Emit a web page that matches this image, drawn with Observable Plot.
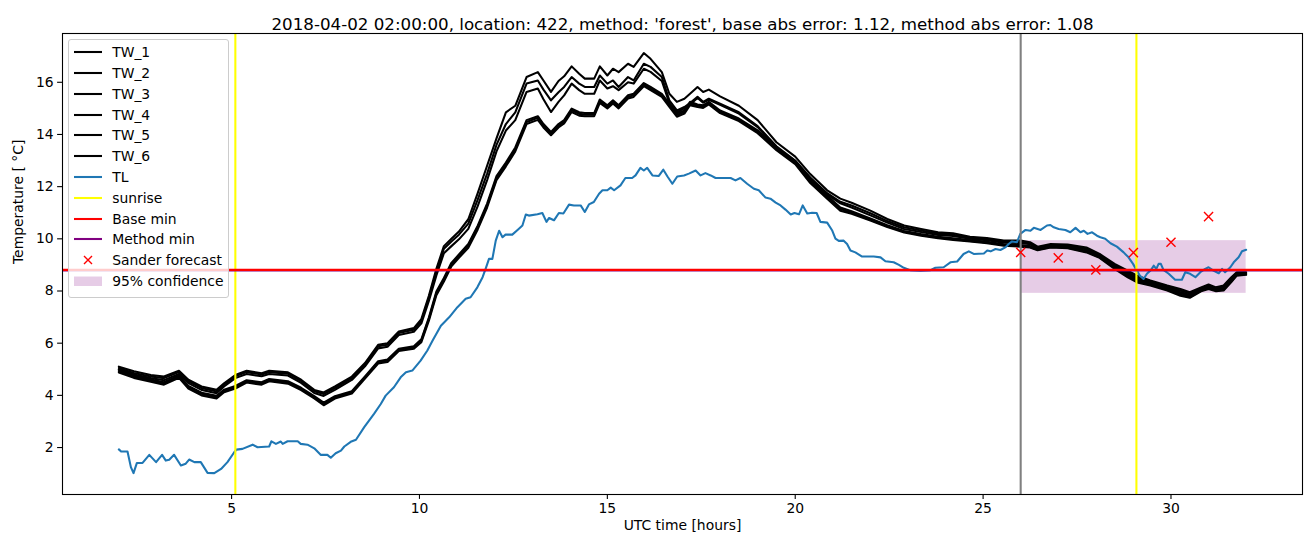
<!DOCTYPE html>
<html>
<head>
<meta charset="utf-8">
<script src="https://cdn.jsdelivr.net/npm/d3@7"></script>
<script src="https://cdn.jsdelivr.net/npm/@observablehq/plot@0.6"></script>
<style>
  html, body { margin: 0; padding: 0; background: white; }
  #wrap { position: relative; width: 1311px; height: 547px; font-family: "DejaVu Sans", sans-serif; }
  #legend { position: absolute; left: 68px; top: 39px; width: 159px; height: 255px;
    border: 1px solid #cccccc; border-radius: 3px; background: rgba(255,255,255,0.8);
    box-sizing: content-box; padding-top: 1.9px; }
  .row { display: flex; align-items: center; height: 20.8px; font-size: 13.9px; color: black; white-space: nowrap; }
  .row svg { margin-left: 4.7px; margin-right: 10.5px; flex: none; }
</style>
</head>
<body>
<div id="wrap"></div>
<script>
// ---------------- data ----------------
const title = "2018-04-02 02:00:00, location: 422, method: 'forest', base abs error: 1.12, method abs error: 1.08";
const xTicks = [5, 10, 15, 20, 25, 30];
const yTicks = [2, 4, 6, 8, 10, 12, 14, 16];

const twHours = [2.0,2.4,2.85,3.2,3.6,3.85,4.2,4.6,4.8,5.1,5.4,5.8,6.0,6.5,6.85,7.2,7.45,7.75,8.2,8.55,8.9,9.15,9.45,9.85,10.05,10.25,10.45,10.65,10.85,11.05,11.3,11.55,11.8,12.05,12.3,12.55,12.85,13.15,13.3,13.5,13.7,13.85,14.05,14.25,14.4,14.65,14.8,15.0,15.15,15.3,15.55,15.7,15.97,16.15,16.45,16.65,16.85,17.05,17.2,17.4,17.55,17.7,18.0,18.5,19.0,19.5,20.0,20.4,20.85,21.2,21.5,22.0,22.45,22.9,23.35,23.8,24.2,24.65,25.1,25.55,26.0,26.25,26.45,26.8,27.25,27.75,28.1,28.5,28.85,29.1,29.45,29.9,30.25,30.5,30.8,31.0,31.2,31.4,31.6,31.75,32.0];

const tw1 = [5.10,4.92,4.78,4.72,4.94,4.60,4.34,4.21,4.46,4.78,
4.94,4.85,4.94,4.88,4.60,4.21,4.11,4.34,4.72,5.24,
5.94,6.00,6.45,6.58,6.92,7.82,8.85,9.72,10.00,10.28,
10.75,11.75,12.80,13.85,14.85,15.10,16.20,16.39,16.07,15.63,
16.05,16.23,16.61,16.33,16.14,16.14,16.61,16.26,16.52,16.39,
16.71,16.59,17.12,16.90,16.39,15.56,15.25,15.37,15.56,15.82,
15.63,15.72,15.46,15.10,14.55,13.70,13.15,12.48,11.86,11.54,
11.38,11.08,10.76,10.51,10.38,10.25,10.21,10.08,10.03,9.93,
9.93,9.87,9.70,9.80,9.78,9.67,9.42,9.04,8.78,8.59,
8.40,8.21,8.08,7.95,8.14,8.25,8.14,8.21,8.52,8.72,8.72];

const tw2 = [5.05,4.86,4.72,4.66,4.89,4.54,4.28,4.15,4.41,4.73,
4.89,4.80,4.89,4.83,4.55,4.16,4.05,4.28,4.66,5.18,
5.88,5.94,6.39,6.52,6.85,7.74,8.74,9.62,9.90,10.16,
10.58,11.50,12.50,13.60,14.40,14.85,15.95,16.07,15.72,15.31,
15.62,15.82,16.20,15.95,15.82,15.82,16.26,15.95,16.07,15.82,
16.20,16.07,16.71,16.59,16.20,15.31,14.92,15.05,15.20,15.44,
15.25,15.37,15.18,14.85,14.32,13.55,13.00,12.35,11.75,11.42,
11.28,10.98,10.68,10.44,10.32,10.20,10.16,10.04,9.99,9.89,
9.88,9.83,9.66,9.76,9.74,9.63,9.38,9.00,8.72,8.53,
8.36,8.17,8.02,7.90,8.11,8.21,8.11,8.17,8.48,8.69,8.70];

const tw3 = [5.00,4.80,4.66,4.58,4.82,4.47,4.21,4.08,4.34,4.66,
4.82,4.73,4.82,4.76,4.48,4.09,3.98,4.21,4.59,5.11,
5.80,5.86,6.31,6.44,6.76,7.62,8.60,9.45,9.72,9.98,
10.38,11.25,12.25,13.35,14.15,14.55,15.63,15.76,15.35,14.86,
15.25,15.50,15.95,15.70,15.56,15.56,16.07,15.76,15.85,15.70,
16.00,15.95,16.52,16.40,16.05,15.20,14.85,15.00,15.15,15.40,
15.22,15.33,15.14,14.80,14.28,13.50,12.95,12.30,11.70,11.36,
11.20,10.90,10.62,10.38,10.26,10.15,10.11,10.00,9.95,9.85,
9.84,9.79,9.63,9.73,9.71,9.60,9.35,8.96,8.66,8.47,
8.32,8.13,7.96,7.85,8.08,8.17,8.08,8.13,8.44,8.66,8.68];

const tw4 = [4.98,4.76,4.61,4.50,4.76,4.36,4.10,3.98,4.22,4.36,
4.58,4.50,4.63,4.54,4.29,3.97,3.72,3.97,4.16,4.73,
5.31,5.37,5.79,5.88,6.15,6.98,7.98,8.50,9.08,9.40,
9.80,10.50,11.35,12.40,12.92,13.50,14.55,14.70,14.40,14.10,
14.40,14.55,14.99,14.85,14.82,14.82,15.34,15.12,15.31,15.12,
15.50,15.56,15.97,15.82,15.56,15.18,14.80,14.92,15.25,15.15,
15.12,15.25,14.92,14.61,14.16,13.50,12.98,12.26,11.66,11.20,
11.06,10.78,10.52,10.30,10.18,10.08,10.02,9.95,9.89,9.79,
9.76,9.72,9.60,9.71,9.68,9.54,9.32,8.92,8.60,8.42,
8.28,8.09,7.91,7.81,8.05,8.14,8.05,8.09,8.40,8.64,8.66];

const tw5 = [4.93,4.72,4.57,4.46,4.72,4.31,4.06,3.93,4.18,4.31,
4.54,4.46,4.59,4.50,4.25,3.93,3.67,3.93,4.12,4.69,
5.27,5.33,5.75,5.84,6.10,6.93,7.92,8.44,9.02,9.34,
9.74,10.44,11.28,12.32,12.85,13.42,14.48,14.64,14.34,14.04,
14.34,14.48,14.93,14.79,14.76,14.76,15.28,15.06,15.25,15.06,
15.44,15.50,15.91,15.76,15.50,15.12,14.74,14.86,15.19,15.10,
15.07,15.20,14.87,14.56,14.10,13.45,12.92,12.20,11.60,11.14,
11.00,10.73,10.48,10.27,10.15,10.05,9.99,9.92,9.86,9.76,
9.73,9.69,9.58,9.69,9.66,9.51,9.29,8.89,8.56,8.38,
8.24,8.05,7.86,7.77,8.02,8.11,8.02,8.05,8.36,8.61,8.64];

const tw6 = [4.88,4.67,4.52,4.41,4.67,4.26,4.00,3.88,4.12,4.26,
4.49,4.41,4.54,4.45,4.20,3.88,3.62,3.88,4.07,4.64,
5.22,5.28,5.70,5.79,6.04,6.86,7.84,8.36,8.95,9.27,
9.66,10.36,11.20,12.25,12.78,13.35,14.40,14.56,14.27,13.97,
14.27,14.42,14.86,14.72,14.70,14.70,15.21,15.00,15.19,15.00,
15.38,15.44,15.85,15.70,15.44,15.06,14.68,14.80,15.12,15.05,
15.02,15.15,14.82,14.51,14.05,13.40,12.86,12.14,11.54,11.08,
10.96,10.70,10.45,10.24,10.12,10.02,9.96,9.90,9.83,9.74,
9.70,9.67,9.56,9.67,9.64,9.48,9.27,8.85,8.52,8.33,
8.21,8.02,7.82,7.74,7.99,8.08,7.99,8.02,8.33,8.59,8.62];

const tlHours = [2.00,2.06,2.23,2.32,2.39,2.48,2.63,2.81,2.99,3.15,3.25,3.34,3.47,3.65,3.78,3.87,4.01,4.18,4.36,4.54,4.72,4.89,5.07,5.13,5.29,5.56,5.69,6.00,6.06,6.18,6.31,6.36,6.49,6.76,6.84,7.02,7.20,7.37,7.55,7.64,7.77,7.91,8.00,8.17,8.31,8.53,8.79,8.97,9.10,9.32,9.50,9.64,9.81,10.03,10.21,10.35,10.57,10.79,11.01,11.23,11.36,11.54,11.68,11.76,11.85,11.94,12.03,12.12,12.21,12.29,12.47,12.61,12.74,12.83,12.91,13.14,13.27,13.38,13.45,13.58,13.71,13.83,13.98,14.11,14.29,14.40,14.51,14.64,14.78,14.87,15.00,15.09,15.18,15.35,15.48,15.66,15.75,15.88,15.97,16.06,16.20,16.37,16.49,16.60,16.73,16.86,17.04,17.17,17.35,17.48,17.61,17.75,17.88,18.28,18.41,18.54,18.72,18.90,19.03,19.21,19.34,19.48,19.61,19.74,19.88,19.98,20.10,20.20,20.32,20.45,20.57,20.67,20.85,20.98,21.07,21.16,21.29,21.38,21.47,21.60,21.78,22.09,22.27,22.40,22.62,22.76,22.89,23.06,23.33,23.60,23.73,23.95,24.13,24.31,24.48,24.62,24.75,25.02,25.11,25.20,25.33,25.46,25.59,25.68,25.77,25.90,25.99,26.13,26.26,26.35,26.53,26.70,26.79,26.88,27.01,27.19,27.32,27.46,27.59,27.68,27.78,27.90,28.03,28.12,28.25,28.39,28.56,28.74,28.87,28.99,29.08,29.17,29.27,29.36,29.47,29.54,29.61,29.67,29.73,29.80,29.94,30.11,30.29,30.38,30.51,30.65,30.78,30.91,31.00,31.13,31.27,31.36,31.44,31.58,31.67,31.80,31.89,32.00];

const tlTemps = [1.93,1.85,1.85,1.25,1.02,1.41,1.41,1.72,1.44,1.72,1.50,1.53,1.72,1.31,1.38,1.54,1.44,1.44,1.03,1.02,1.18,1.44,1.82,1.92,1.95,2.11,2.01,2.04,2.24,2.14,2.23,2.14,2.24,2.24,2.14,2.11,1.97,1.72,1.72,1.61,1.78,1.88,2.04,2.22,2.30,2.78,3.29,3.67,3.99,4.31,4.69,4.89,4.95,5.33,5.72,6.10,6.67,6.99,7.38,7.70,7.76,8.14,8.53,8.85,9.23,9.23,9.93,10.31,10.06,10.16,10.16,10.34,10.51,10.93,10.89,10.94,10.99,10.65,10.80,10.71,10.99,10.97,11.31,11.28,11.28,11.03,11.32,11.41,11.73,11.86,11.86,11.96,11.86,12.05,12.33,12.33,12.43,12.72,12.62,12.72,12.43,12.41,12.65,12.39,12.11,12.39,12.43,12.50,12.62,12.43,12.52,12.43,12.33,12.33,12.24,12.33,12.11,11.92,11.86,11.58,11.54,11.39,11.28,11.12,10.93,10.99,10.94,11.28,10.97,11.00,10.99,10.65,10.62,10.33,10.01,9.92,9.93,9.80,9.55,9.48,9.32,9.32,9.29,9.14,9.10,9.00,8.89,8.80,8.78,8.80,8.89,8.91,9.10,9.13,9.42,9.52,9.42,9.44,9.55,9.52,9.61,9.57,9.67,9.80,9.90,9.87,10.19,10.34,10.31,10.42,10.34,10.51,10.53,10.44,10.38,10.34,10.25,10.42,10.25,10.31,10.19,10.25,10.12,10.06,10.00,9.83,9.70,9.48,9.29,9.04,8.81,8.59,8.46,8.66,8.81,8.97,8.85,9.04,9.04,8.81,8.66,8.43,8.43,8.72,8.66,8.53,8.72,8.85,8.91,8.78,8.68,8.85,8.72,8.91,9.10,9.29,9.52,9.58];

const sunriseHours = [5.10, 29.08];
const forecastStartHour = [26.0];
const baseMin = [8.81];
const methodMin = [8.785];
const forecastHours = [26, 27, 28, 29, 30, 31];
const forecastTemps = [9.48, 9.27, 8.81, 9.47, 9.87, 10.85];
const confStart = [26.0], confEnd = [32.0], confLow = [7.91], confHigh = [9.93];

const legendLabels = ["TW_1","TW_2","TW_3","TW_4","TW_5","TW_6","TL","sunrise","Base min","Method min","Sander forecast","95% confidence"];

// ---------------- build tables ----------------
const twSeries = [tw1, tw2, tw3, tw4, tw5, tw6];
const twRows = twSeries.flatMap((vals, i) => vals.map((t, j) => ({series: "TW_" + (i + 1), h: twHours[j], t})));
const tlRows = tlTemps.map((t, j) => ({h: tlHours[j], t}));
const fcRows = forecastTemps.map((t, j) => ({h: forecastHours[j], t}));
const confRows = confStart.map((s, i) => ({x1: s, x2: confEnd[i], y1: confLow[i], y2: confHigh[i]}));

const BLUE = "#1f77b4";
const LW = 2.08;
const chart = Plot.plot({
  width: 1311, height: 547,
  marginLeft: 62, marginRight: 9, marginTop: 33, marginBottom: 53,
  style: {fontFamily: "DejaVu Sans", fontSize: "13.9px", background: "white", color: "black", overflow: "visible"},
  x: {domain: [0.5, 33.5]},
  y: {domain: [0.2, 17.87]},
  marks: [
    Plot.rect(confRows, {x1: "x1", x2: "x2", y1: "y1", y2: "y2", fill: "purple", fillOpacity: 0.2}),
    Plot.line(twRows, {x: "h", y: "t", z: "series", stroke: "black", strokeWidth: LW}),
    Plot.line(tlRows, {x: "h", y: "t", stroke: BLUE, strokeWidth: LW}),
    Plot.ruleX(sunriseHours, {stroke: "yellow", strokeWidth: LW}),
    Plot.ruleX(forecastStartHour, {stroke: "gray", strokeWidth: LW}),
    Plot.ruleY(methodMin, {stroke: "purple", strokeWidth: LW}),
    Plot.ruleY(baseMin, {stroke: "red", strokeWidth: LW}),
    Plot.dot(fcRows, {x: "h", y: "t", symbol: "times", stroke: "red", strokeWidth: 1.4, r: 4.2}),
    Plot.frame({stroke: "black", strokeWidth: 1.1}),
    Plot.axisX({ticks: xTicks, tickSize: 4.9, tickPadding: 4, strokeWidth: 1.1, label: null, fontSize: 13.9}),
    Plot.axisY({ticks: yTicks, tickSize: 4.9, tickPadding: 4, strokeWidth: 1.1, label: null, fontSize: 13.9}),
    Plot.text(["UTC time [hours]"], {text: d => d, frameAnchor: "bottom", dy: 35, fontSize: 13.9}),
    Plot.text(["Temperature [ °C]"], {text: d => d, frameAnchor: "left", dx: -44, rotate: -90, fontSize: 13.9}),
    Plot.text([title], {text: d => d, frameAnchor: "top", dy: -15, fontSize: 16.7})
  ]
});
const wrap = document.getElementById("wrap");
wrap.appendChild(chart);

// ---------------- legend ----------------
const legend = document.createElement("div");
legend.id = "legend";
const swatches = [
  `<line x1="0" x2="28" y1="5" y2="5" stroke="black" stroke-width="2.08"/>`,
  `<line x1="0" x2="28" y1="5" y2="5" stroke="black" stroke-width="2.08"/>`,
  `<line x1="0" x2="28" y1="5" y2="5" stroke="black" stroke-width="2.08"/>`,
  `<line x1="0" x2="28" y1="5" y2="5" stroke="black" stroke-width="2.08"/>`,
  `<line x1="0" x2="28" y1="5" y2="5" stroke="black" stroke-width="2.08"/>`,
  `<line x1="0" x2="28" y1="5" y2="5" stroke="black" stroke-width="2.08"/>`,
  `<line x1="0" x2="28" y1="5" y2="5" stroke="${BLUE}" stroke-width="2.08"/>`,
  `<line x1="0" x2="28" y1="5" y2="5" stroke="yellow" stroke-width="2.08"/>`,
  `<line x1="0" x2="28" y1="5" y2="5" stroke="red" stroke-width="2.08"/>`,
  `<line x1="0" x2="28" y1="5" y2="5" stroke="purple" stroke-width="2.08"/>`,
  `<path d="M10,1L18,9M18,1L10,9" stroke="red" stroke-width="1.4" fill="none"/>`,
  `<rect x="0" y="0.5" width="28" height="9.5" fill="purple" fill-opacity="0.2"/>`
];
legendLabels.forEach((lab, i) => {
  const row = document.createElement("div");
  row.className = "row";
  row.innerHTML = `<svg width="28" height="10">${swatches[i]}</svg><span>${lab}</span>`;
  legend.appendChild(row);
});
wrap.appendChild(legend);
</script>
</body>
</html>
